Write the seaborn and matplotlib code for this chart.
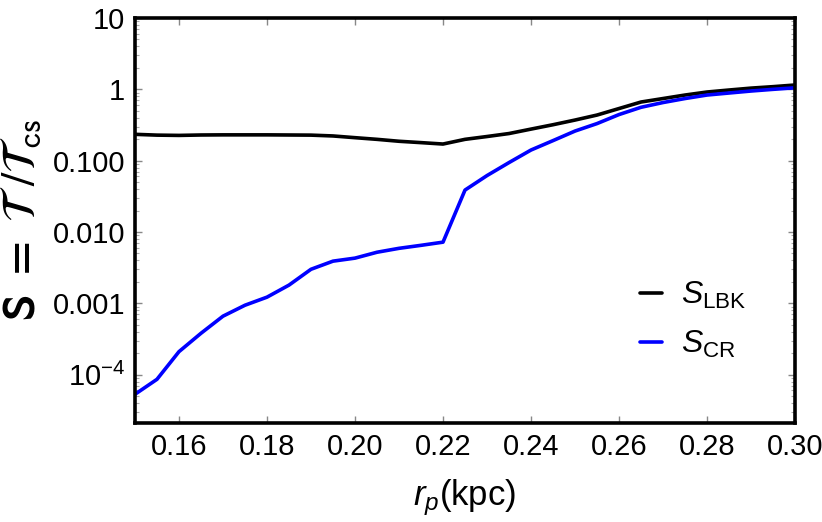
import numpy as np
import pandas as pd
import matplotlib
matplotlib.use("Agg")
import matplotlib.pyplot as plt
import matplotlib.ticker as mticker
import seaborn as sns

# ---- data ----
r_p = [0.150, 0.155, 0.160, 0.165, 0.170, 0.175, 0.180, 0.185, 0.190, 0.195,
       0.200, 0.205, 0.210, 0.215, 0.220, 0.225, 0.230, 0.235, 0.240, 0.245,
       0.250, 0.255, 0.260, 0.265, 0.270, 0.275, 0.280, 0.285, 0.290, 0.295, 0.300]
S_LBK = [0.234, 0.228, 0.226, 0.229, 0.230, 0.230, 0.230, 0.229, 0.228, 0.222,
         0.210, 0.199, 0.187, 0.179, 0.171, 0.199, 0.218, 0.240, 0.277, 0.319,
         0.371, 0.436, 0.538, 0.664, 0.743, 0.832, 0.917, 0.978, 1.04, 1.09, 1.15]
S_CR = [5.3e-5, 8.6e-5, 2.1e-4, 3.8e-4, 6.6e-4, 9.4e-4, 1.22e-3, 1.8e-3, 3.0e-3, 3.9e-3,
        4.3e-3, 5.2e-3, 5.9e-3, 6.5e-3, 7.2e-3, 0.0387, 0.0618, 0.094, 0.141, 0.191,
        0.26, 0.331, 0.443, 0.56, 0.653, 0.743, 0.832, 0.888, 0.947, 1.0, 1.05]
series_labels = [r"$\mathit{S}_{\mathrm{LBK}}$", r"$\mathit{S}_{\mathrm{CR}}$"]
series_colors = ["#000000", "#0000ff"]
x_ticks = [0.16, 0.18, 0.20, 0.22, 0.24, 0.26, 0.28, 0.30]
y_ticks = [1e-4, 1e-3, 1e-2, 1e-1, 1, 10]
y_tick_labels = [r"$10^{-4}$", "0.001", "0.010", "0.100", "1", "10"]

df = pd.DataFrame({
    "r_p": r_p * 2,
    "S": S_LBK + S_CR,
    "series": [series_labels[0]] * len(r_p) + [series_labels[1]] * len(r_p),
})

sns.set_theme(style="white")
plt.rcParams["font.family"] = ["Liberation Sans", "DejaVu Sans"]
plt.rcParams["mathtext.fontset"] = "custom"
plt.rcParams["mathtext.rm"] = "Liberation Sans"
plt.rcParams["mathtext.it"] = "Liberation Sans:italic"
plt.rcParams["mathtext.bf"] = "Liberation Sans:bold"
plt.rcParams["text.color"] = "black"
plt.rcParams["axes.labelcolor"] = "black"
plt.rcParams["xtick.labelcolor"] = "black"
plt.rcParams["ytick.labelcolor"] = "black"

fig = plt.figure(figsize=(8.22, 5.22), dpi=100)
ax = fig.add_axes([0.1642, 0.1897, 0.8030, 0.7758])

sns.lineplot(data=df, x="r_p", y="S", hue="series",
             palette=dict(zip(series_labels, series_colors)),
             linewidth=2.6, ax=ax, legend=True)

ax.set_yscale("log")
ax.set_xlim(0.15, 0.30)
ax.set_ylim(2.1e-5, 10)

ax.set_xticks(x_ticks)
ax.set_xticklabels([f"{t:.2f}" for t in x_ticks])
ax.set_yticks(y_ticks)
ax.set_yticklabels(y_tick_labels)
ax.yaxis.set_minor_locator(mticker.LogLocator(base=10, subs=np.arange(2, 10)))
ax.yaxis.set_minor_formatter(mticker.NullFormatter())

ax.tick_params(axis="both", which="major", labelsize=21, direction="in",
               length=5, width=1, color="#888888", pad=7, labelcolor="black",
               left=True, right=True, top=True, bottom=True)
ax.tick_params(axis="y", which="minor", direction="in", length=3, width=0.8,
               color="#aaaaaa", left=True, right=True)

for sp in ax.spines.values():
    sp.set_color("black")
    sp.set_linewidth(2.6)

ax.set_xlabel(r"$r_p$(kpc)", fontsize=25, labelpad=12, color="black")
ax.set_ylabel(r"$\mathbf{S\ =\ }\mathcal{T}\ /\mathcal{T}_{\mathrm{cs}}$",
              fontsize=34, labelpad=5, math_fontfamily="stixsans", color="black")

leg = ax.legend(loc="lower right", bbox_to_anchor=(0.97, 0.085), frameon=False,
                fontsize=23, handlelength=0.7, handletextpad=0.6,
                labelspacing=0.55)
for line in leg.get_lines():
    line.set_linewidth(2.6)
for t in leg.get_texts():
    t.set_color("black")

fig.savefig("out.png", dpi=100)
